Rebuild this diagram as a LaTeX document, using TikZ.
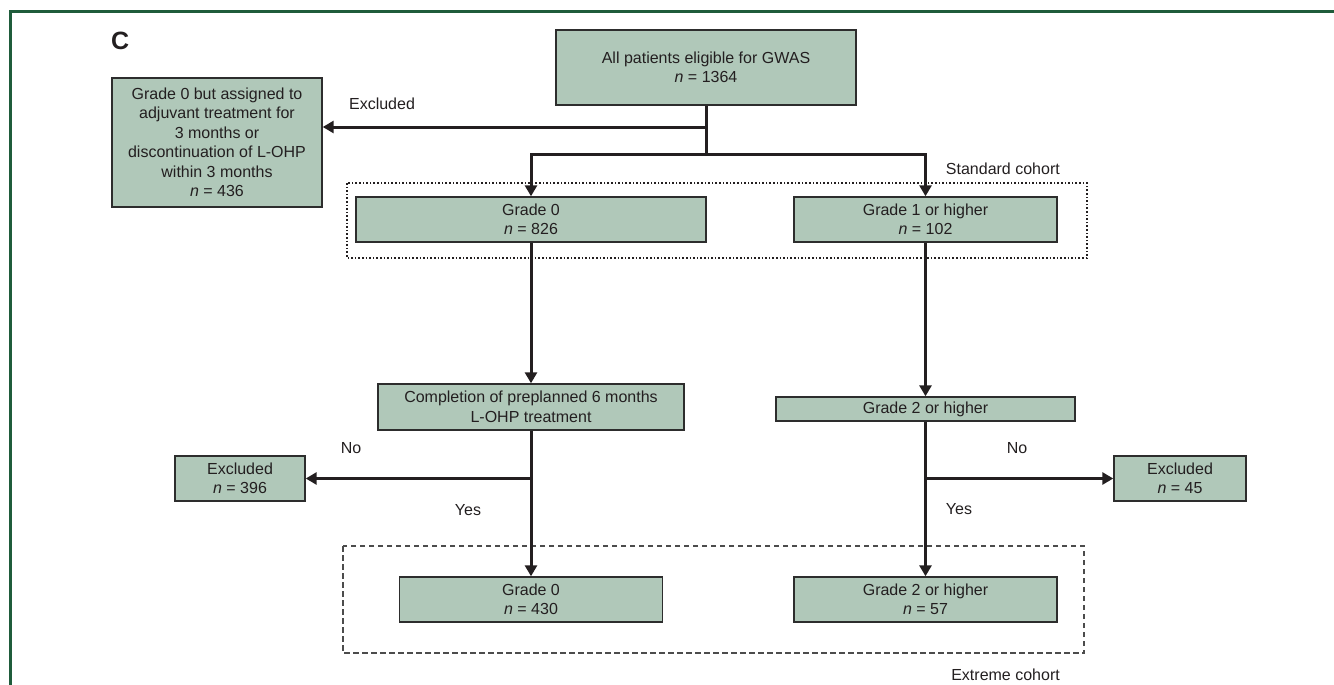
\documentclass[tikz,border=0pt]{standalone}
\usepackage{fontspec}
\setmainfont{Liberation Sans}
\usetikzlibrary{arrows.meta}
\definecolor{boxfill}{RGB}{176,200,185}
\definecolor{boxline}{RGB}{45,45,45}
\definecolor{conncol}{RGB}{35,31,32}
\definecolor{framegreen}{RGB}{31,92,59}
\definecolor{txt}{RGB}{35,31,32}
\begin{document}
\begin{tikzpicture}[x=1pt,y=-1pt,
  every node/.style={text=txt,font=\fontsize{16}{19.5}\selectfont},
  fbox/.style={draw=boxline,fill=boxfill,line width=1.4pt,inner sep=0pt,align=center},
  conn/.style={draw=conncol,line width=3pt},
  arr/.style={conn,-{Triangle[length=11pt,width=12pt]}},
  lbl/.style={inner sep=0pt},
  dotbox/.style={draw=conncol,line width=1.4pt,dash pattern=on 1.6pt off 2pt},
  dashbox/.style={draw=black!70,line width=1.3pt,dash pattern=on 5.5pt off 3.5pt}]
\useasboundingbox (0,0) rectangle (1334,685);
% frame
\draw[framegreen,line width=3pt] (10,690) -- (10,11.5) -- (1340,11.5);
% panel letter
\node[lbl,anchor=base west,font=\fontsize{25}{25}\selectfont\bfseries] (C) at (111,50) {C};
% cohort boxes
\draw[dotbox] (347,183) rectangle (1087,258);
\draw[dashbox] (343,546) rectangle (1084,653);
\node[lbl,anchor=base east] (stdlbl) at (1060,174) {Standard cohort};
\node[lbl,anchor=base east] (extlbl) at (1060,680) {Extreme cohort};
% boxes
\node[fbox,minimum width=300pt,minimum height=75pt] (top) at (706,67.5) {All patients eligible for GWAS\\\textit{n} = 1364};
\node[fbox,minimum width=210pt,minimum height=129pt] (left) at (217,142.5) {Grade 0 but assigned to\\adjuvant treatment for\\3 months or\\discontinuation of L-OHP\\within 3 months\\\textit{n} = 436};
\node[fbox,minimum width=350pt,minimum height=45pt] (g0) at (531,219.5) {Grade 0\\\textit{n} = 826};
\node[fbox,minimum width=263pt,minimum height=45pt] (g1) at (925.5,219.5) {Grade 1 or higher\\\textit{n} = 102};
\node[fbox,minimum width=306pt,minimum height=46pt] (comp) at (531,407) {Completion of preplanned 6 months\\L-OHP treatment};
\node[fbox,minimum width=299pt,minimum height=24pt] (g2m) at (925.5,409) {Grade 2 or higher};
\node[fbox,minimum width=130pt,minimum height=45pt] (ex1) at (240,478.5) {Excluded\\\textit{n} = 396};
\node[fbox,minimum width=132pt,minimum height=45pt] (ex2) at (1180,478.5) {Excluded\\\textit{n} = 45};
\node[fbox,minimum width=263pt,minimum height=45pt] (g0b) at (531,599.5) {Grade 0\\\textit{n} = 430};
\node[fbox,minimum width=263pt,minimum height=45pt] (g2b) at (925.5,599.5) {Grade 2 or higher\\\textit{n} = 57};
% labels
\node[lbl] (lexc) at (382,104) {Excluded};
\node[lbl] (lno1) at (351,448) {No};
\node[lbl] (lyes1) at (468,510) {Yes};
\node[lbl] (lno2) at (1017,448) {No};
\node[lbl] (lyes2) at (959,509) {Yes};
% junctions
\coordinate (j1) at (706,127);
\coordinate (j2) at (706,154);
\coordinate (j3) at (531,478.5);
\coordinate (j4) at (925.5,478.5);
% connectors
\draw[conn] (top.south) -- (j2);
\draw[arr] (j1) -- (j1 -| left.east);
\draw[arr] (j2) -| (g0.north);
\draw[arr] (j2) -| (g1.north);
\draw[arr] (g0.south) -- (comp.north);
\draw[arr] (comp.south) -- (g0b.north);
\draw[arr] (j3) -- (j3 -| ex1.east);
\draw[arr] (g1.south) -- (g2m.north);
\draw[arr] (g2m.south) -- (g2b.north);
\draw[arr] (j4) -- (j4 -| ex2.west);
\end{tikzpicture}
\end{document}
